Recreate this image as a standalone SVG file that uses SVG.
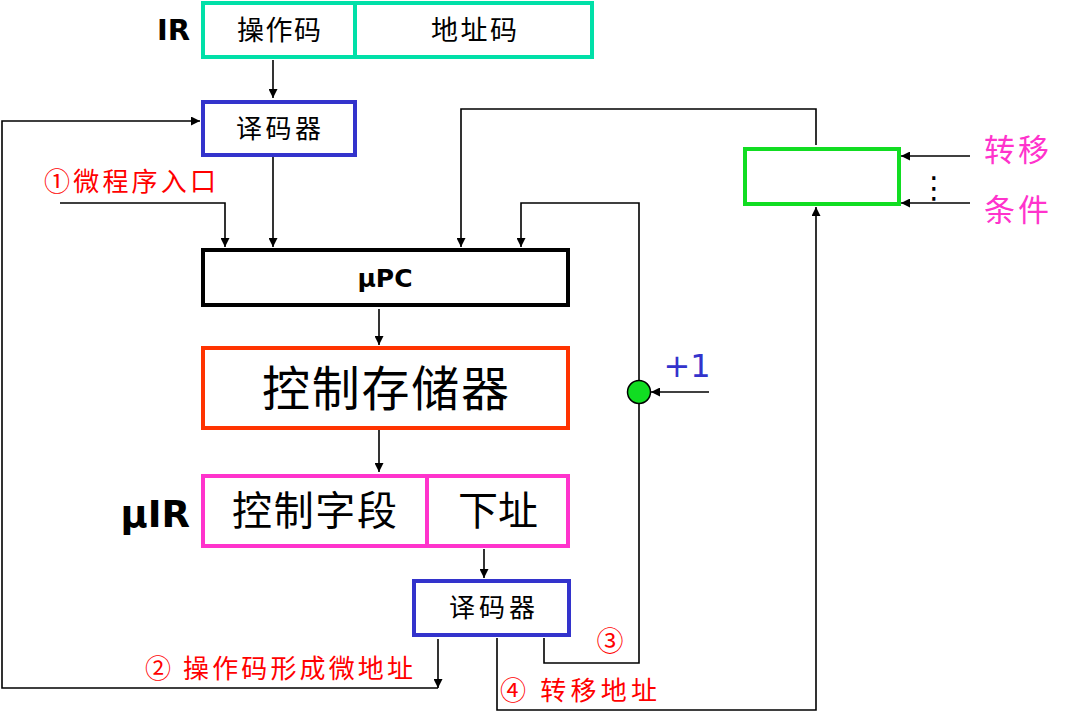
<svg xmlns="http://www.w3.org/2000/svg" width="1088" height="723" viewBox="0 0 1088 723">
<style>
.cjk{font-family:"Noto Sans CJK SC","Noto Sans",sans-serif;}
.lat{font-family:"DejaVu Sans","Liberation Sans",sans-serif;font-weight:bold;}
.box{fill:#fff;stroke-width:4;}
.ln{fill:none;stroke:#000;stroke-width:1.6;}
.red{fill:#FF0000;}
.pink{fill:#FF33CC;}
</style>
<defs>
<marker id="ah" viewBox="0 0 10 10" refX="10" refY="5" markerWidth="9" markerHeight="9" markerUnits="userSpaceOnUse" orient="auto">
<path d="M0,0 L10,5 L0,10 z" fill="#000"/>
</marker>
</defs>
<rect width="1088" height="723" fill="#fff"/>

<g id="connectors">
<line class="ln" x1="273" y1="60" x2="273" y2="98" marker-end="url(#ah)"/>
<line class="ln" x1="273" y1="157" x2="273" y2="247" marker-end="url(#ah)"/>
<polyline class="ln" points="60,203 225,203 225,247" marker-end="url(#ah)"/>
<polyline class="ln" points="816,145 816,109 461,109 461,247" marker-end="url(#ah)"/>
<polyline class="ln" points="639,380 639,203 521,203 521,247" marker-end="url(#ah)"/>
<line class="ln" x1="379" y1="309" x2="379" y2="345" marker-end="url(#ah)"/>
<line class="ln" x1="379" y1="430" x2="379" y2="472" marker-end="url(#ah)"/>
<line class="ln" x1="484" y1="549" x2="484" y2="578" marker-end="url(#ah)"/>
<line class="ln" x1="438" y1="639" x2="438" y2="688" marker-end="url(#ah)"/>
<polyline class="ln" points="438,688 2,688 2,121 200,121" marker-end="url(#ah)"/>
<polyline class="ln" points="544,638 544,663 639,663 639,404"/>
<polyline class="ln" points="497,638 497,710 816,710 816,207" marker-end="url(#ah)"/>
<line class="ln" x1="709" y1="392" x2="651" y2="392" marker-end="url(#ah)"/>
<line class="ln" x1="970" y1="156" x2="901" y2="156" marker-end="url(#ah)"/>
<line class="ln" x1="970" y1="203" x2="901" y2="203" marker-end="url(#ah)"/>
</g>

<g id="ir">
<text class="lat" x="190" y="40" font-size="29" text-anchor="end">IR</text>
<rect class="box" x="203" y="3" width="389" height="54" stroke="#00E0A8"/>
<line x1="355" y1="3" x2="355" y2="57" stroke="#00E0A8" stroke-width="4"/>
<text class="cjk" x="237" y="40" font-size="27" textLength="84">操作码</text>
<text class="cjk" x="431" y="40" font-size="27" textLength="86">地址码</text>
</g>

<g id="decoder1">
<rect class="box" x="203" y="102" width="152" height="53" stroke="#3333CC"/>
<text class="cjk" x="236" y="138" font-size="26" textLength="85">译码器</text>
</g>

<g id="label1">
<text class="cjk red" x="44" y="191" font-size="26" textLength="172">①微程序入口</text>
</g>

<g id="upc">
<rect class="box" x="203" y="250" width="365" height="55" stroke="#000" stroke-width="5"/>
<text class="lat" x="385" y="287" font-size="25" text-anchor="middle">μPC</text>
</g>

<g id="cs">
<rect class="box" x="203" y="348" width="365" height="80" stroke="#FF3300"/>
<text class="cjk" x="262" y="406" font-size="48" textLength="247">控制存储器</text>
</g>

<g id="uir">
<text class="lat" x="190" y="527" font-size="37" text-anchor="end">μIR</text>
<rect class="box" x="203" y="476" width="365" height="70" stroke="#FF33CC"/>
<line x1="427" y1="476" x2="427" y2="546" stroke="#FF33CC" stroke-width="4"/>
<text class="cjk" x="232" y="525" font-size="40" textLength="165">控制字段</text>
<text class="cjk" x="458" y="525" font-size="40" textLength="80">下址</text>
</g>

<g id="decoder2">
<rect class="box" x="414" y="581" width="155" height="54" stroke="#3333CC"/>
<text class="cjk" x="449" y="617" font-size="26" textLength="86">译码器</text>
</g>

<g id="cond">
<rect class="box" x="745" y="149" width="154" height="55" stroke="#11DD22"/>
<text class="cjk pink" x="984" y="161" font-size="31" textLength="65">转移</text>
<text class="cjk pink" x="984" y="221" font-size="31" textLength="65">条件</text>
<text x="934" y="198" font-family="DejaVu Sans, sans-serif" font-size="30" text-anchor="middle">⋮</text>
</g>

<g id="inc">
<ellipse cx="639" cy="392" rx="11.5" ry="11.5" fill="#11DD22" stroke="#000" stroke-width="1.5"/>
<text x="687" y="377" font-family="DejaVu Sans, Liberation Sans, sans-serif" font-size="32" fill="#3333CC" text-anchor="middle">+1</text>
</g>

<g id="labels">
<text class="cjk red" x="610" y="651" font-size="27" text-anchor="middle">③</text>
<text class="cjk red" x="145" y="678" font-size="26" textLength="268">② 操作码形成微地址</text>
<text class="cjk red" x="500" y="700" font-size="26" textLength="157">④ 转移地址</text>
</g>
</svg>
